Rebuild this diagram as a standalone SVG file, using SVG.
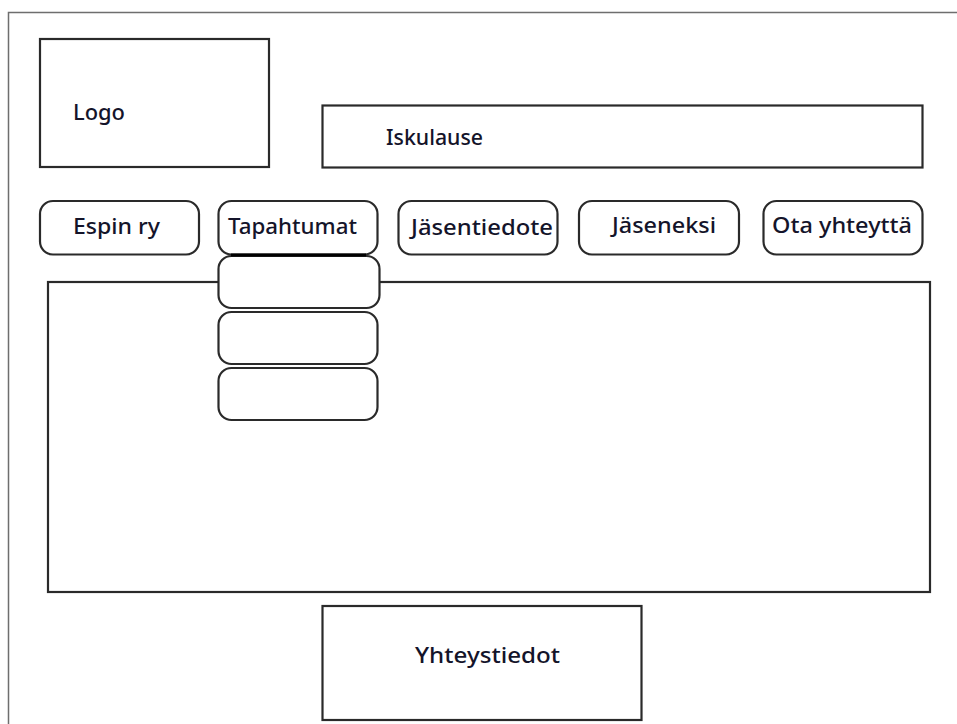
<svg xmlns="http://www.w3.org/2000/svg" width="957" height="724" viewBox="0 0 957 724">
<style>
.b{fill:#fff;stroke:#2a2a2a;stroke-width:2.200}
.t{font-family:"Noto Sans","DejaVu Sans",sans-serif;font-size:21px;font-weight:500;fill:#14142a}
</style>
<rect width="957" height="724" fill="#fff"/>
<path d="M8.500 724V12.500H957" fill="none" stroke="#6e6e6e" stroke-width="1.500"/>
<g id="logo"><rect class="b" x="40" y="39" width="229" height="128"/><text class="t" x="73" y="120" textLength="52" lengthAdjust="spacingAndGlyphs">Logo</text></g>
<g id="iskulause"><rect class="b" x="322.500" y="105.500" width="600" height="62"/><text class="t" x="386" y="145" textLength="97" lengthAdjust="spacingAndGlyphs">Iskulause</text></g>
<g id="content"><rect class="b" x="48" y="282" width="882" height="310"/></g>
<g id="espin"><rect class="b" x="40" y="201" width="159" height="53.500" rx="13"/><text class="t" x="73" y="234" textLength="87" lengthAdjust="spacingAndGlyphs">Espin ry</text></g>
<g id="tapahtumat"><rect class="b" x="218.500" y="201" width="159" height="53.500" rx="13"/><text class="t" x="228" y="234" textLength="129" lengthAdjust="spacingAndGlyphs">Tapahtumat</text></g>
<g id="jasentiedote"><rect class="b" x="398.500" y="201" width="159" height="53.500" rx="13"/><text class="t" x="411" y="235" textLength="142" lengthAdjust="spacingAndGlyphs">Jäsentiedote</text></g>
<g id="jaseneksi"><rect class="b" x="579" y="201" width="160" height="53.500" rx="13"/><text class="t" x="612" y="233" textLength="104" lengthAdjust="spacingAndGlyphs">Jäseneksi</text></g>
<g id="ota-yhteytta"><rect class="b" x="763.500" y="201" width="159" height="53.500" rx="13"/><text class="t" x="772" y="233" textLength="140" lengthAdjust="spacingAndGlyphs">Ota yhteyttä</text></g>
<g id="sub1"><rect class="b" x="218.500" y="256" width="161" height="52" rx="13"/></g>
<g id="sub2"><rect class="b" x="218.500" y="312" width="159" height="52" rx="13"/></g>
<g id="sub3"><rect class="b" x="218.500" y="368" width="159" height="52" rx="13"/></g>
<g id="yhteystiedot"><rect class="b" x="322.500" y="606" width="319" height="114"/><text class="t" x="415" y="663" textLength="145" lengthAdjust="spacingAndGlyphs">Yhteystiedot</text></g>
<path d="M231 255H366" stroke="#000" stroke-width="3" fill="none"/>
<g id="connectors"/>
</svg>
